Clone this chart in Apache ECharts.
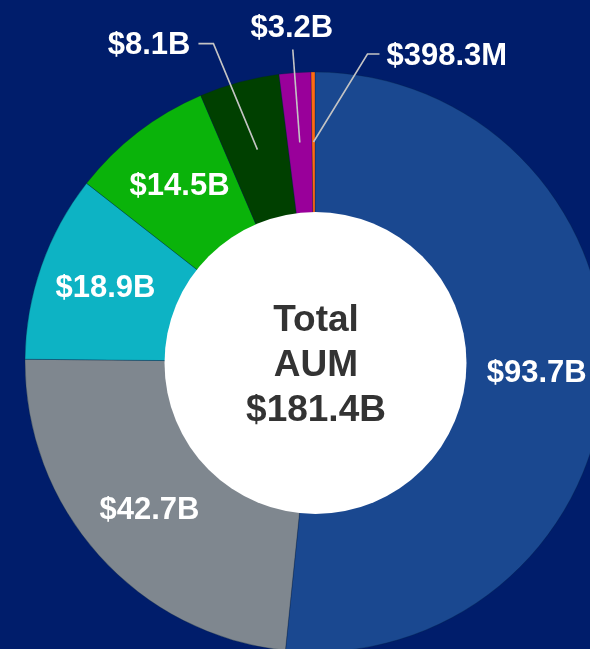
<!DOCTYPE html>
<html>
<head>
<meta charset="utf-8">
<script src="https://cdn.jsdelivr.net/npm/echarts@6/dist/echarts.min.js"></script>
<style>
html,body{margin:0;padding:0;background:#001d6b;}
#aum{width:590px;height:649px;}
</style>
</head>
<body>
<div id="aum"></div>
<script>
// AUM by bucket, $B, clockwise from 12 o'clock
var aumValues = [93.7, 42.7, 18.9, 14.5, 8.1, 3.2, 0.3983];
var aumLabels = ['$93.7B', '$42.7B', '$18.9B', '$14.5B', '$8.1B', '$3.2B', '$398.3M'];
var sliceColors = ['#1a4890', '#7f878f', '#0db3c4', '#0ab30a', '#004000', '#99009a', '#ff6a13'];
var totalLabel = '$181.4B';

var myChart = echarts.init(document.getElementById('aum'));

var ringData = [], leaderData = [];
for (var i = 0; i < aumValues.length; i++) {
	var small = aumValues[i] < 10;
	ringData.push({value: aumValues[i], name: aumLabels[i], itemStyle: {color: sliceColors[i]}, label: {show: !small}});
	leaderData.push({value: aumValues[i], name: aumLabels[i], label: {show: small}, labelLine: {show: small}});
}

// leader line shape for the small slices (offsets from the anchor in the slice)
var leader = {
	4: {bend: [-44, -106], end: [-59, -106], text: [-67, -104], align: 'right'},
	5: {bend: [-7, -93], end: [-7, -93], text: [-8, -114], align: 'center'},
	6: {bend: [54, -88], end: [66, -88], text: [73, -86], align: 'left'}
};

var labelFont = {color: '#fff', fontSize: 31, fontWeight: 'bold', fontFamily: 'Liberation Sans, Arial'};

var option = {
	backgroundColor: '#001d6b',
	animation: false,
	series: [{
		type: 'pie',
		center: [315, 362],
		radius: [148, 290],
		startAngle: 90,
		silent: true,
		itemStyle: {borderColor: 'rgba(0,30,60,0.5)', borderWidth: 0.6},
		label: Object.assign({position: 'inside', formatter: '{b}'}, labelFont),
		labelLine: {show: false},
		data: ringData
	}, {
		type: 'pie',
		center: [315, 362],
		radius: [150, 220],
		startAngle: 90,
		silent: true,
		z: 3,
		itemStyle: {color: 'rgba(0,0,0,0)'},
		label: Object.assign({position: 'outside', formatter: '{b}'}, labelFont),
		labelLine: {length: 20, length2: 10, lineStyle: {color: '#c4c4c4', width: 1.6}},
		labelLayout: function (params) {
			var cfg = leader[params.dataIndex];
			if (!cfg || !params.labelLinePoints) return;
			var a = params.labelLinePoints[0];
			return {
				x: a[0] + cfg.text[0],
				y: a[1] + cfg.text[1],
				align: cfg.align,
				verticalAlign: 'middle',
				labelLinePoints: [
					[a[0], a[1]],
					[a[0] + cfg.bend[0], a[1] + cfg.bend[1]],
					[a[0] + cfg.end[0], a[1] + cfg.end[1]]
				]
			};
		},
		data: leaderData
	}],
	graphic: [{
		type: 'circle',
		shape: {cx: 315.5, cy: 363, r: 151},
		style: {fill: '#ffffff'},
		z: 100,
		silent: true
	}, {
		type: 'text',
		x: 316,
		y: 366,
		z: 101,
		style: {
			text: 'Total\nAUM\n' + totalLabel,
			fill: '#333333',
			fontSize: 37,
			fontWeight: 'bold',
			fontFamily: 'Liberation Sans, Arial',
			align: 'center',
			verticalAlign: 'middle',
			lineHeight: 45
		}
	}]
};
myChart.setOption(option);
</script>
</body>
</html>
